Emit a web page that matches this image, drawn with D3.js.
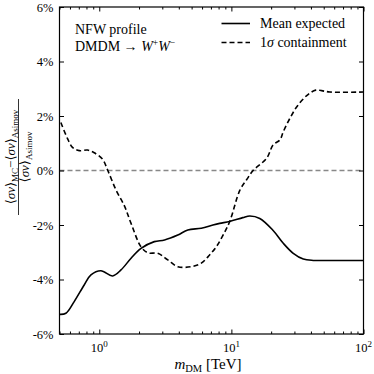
<!DOCTYPE html>
<html><head><meta charset="utf-8">
<script src="https://cdn.jsdelivr.net/npm/d3@7"></script>
<style>
body{margin:0;background:#fff;}
svg text{font-family:"Liberation Serif","DejaVu Serif",serif;fill:#000;}
</style></head>
<body><svg id="c" width="374" height="374"></svg>
<script>
// ---- data ----
const massSolid = [0.50,0.559,0.646,0.769,0.865,1.03,1.26,1.46,1.74,2.07,2.61,3.12,3.93,4.68,5.92,7.25,8.15,9.70,12.2,13.8,16.4,20.7,24.7,29.4,35.0,41.7,55.7,100];
const meanExpected = [-5.28,-5.24,-4.81,-4.20,-3.83,-3.68,-3.87,-3.65,-3.22,-2.86,-2.61,-2.55,-2.37,-2.18,-2.12,-2.0,-1.94,-1.87,-1.73,-1.67,-1.76,-2.2,-2.67,-3.04,-3.25,-3.30,-3.30,-3.30];
const massDashed = [0.512,0.574,0.627,0.705,0.815,0.916,1.06,1.16,1.34,1.55,1.74,2.07,2.33,2.77,3.30,3.93,4.97,5.92,6.84,7.69,8.59,9.70,11.6,13.0,14.6,18.5,20.7,23.3,24.7,27.7,31.6,37.6,43.5,48.2,55.7,100];
const sigmaContainment = [1.76,1.18,0.85,0.73,0.75,0.65,0.41,0.0,-0.72,-1.3,-1.94,-2.80,-3.02,-3.04,-3.28,-3.53,-3.53,-3.40,-3.10,-2.8,-2.4,-1.88,-0.72,-0.35,0.0,0.45,0.94,1.12,1.42,1.91,2.37,2.77,2.95,2.93,2.88,2.88];
const yTicks = [-6,-4,-2,0,2,4,6];
const yTickLabels = ["-6%","-4%","-2%","0%","2%","4%","6%"];
const xMajor = [1,10,100];
const xMajorExp = ["0","1","2"];
const xMinor = [0.5,0.6,0.7,0.8,0.9,2,3,4,5,6,7,8,9,20,30,40,50,60,70,80,90];

const svg = d3.select("#c");
const L=59.5,R=363.5,T=7,B=334;
const x = d3.scaleLog().domain([0.5,100]).range([L,R]);
const y = d3.scaleLinear().domain([-6,6]).range([B,T]);

// zero reference line
svg.append("line").attr("x1",L).attr("x2",R).attr("y1",y(0)).attr("y2",y(0))
  .attr("stroke","#888").attr("stroke-width",1.3).attr("stroke-dasharray","5,3");

const line = d3.line().x(d=>x(d[0])).y(d=>y(d[1])).curve(d3.curveCatmullRom.alpha(0.5));
svg.append("path").datum(massSolid.map((m,i)=>[m,meanExpected[i]]))
  .attr("d",line).attr("fill","none").attr("stroke","#000").attr("stroke-width",1.6);
svg.append("path").datum(massDashed.map((m,i)=>[m,sigmaContainment[i]]))
  .attr("d",line).attr("fill","none").attr("stroke","#000").attr("stroke-width",1.6)
  .attr("stroke-dasharray","5,3");

// axes
function clean(g){g.select(".domain").remove();g.selectAll("line").attr("stroke","#000");}
svg.append("g").attr("transform",`translate(0,${B})`)
  .call(d3.axisBottom(x).tickValues(xMajor).tickSize(-4.5).tickFormat("")).call(clean);
svg.append("g").attr("transform",`translate(0,${B})`)
  .call(d3.axisBottom(x).tickValues(xMinor).tickSize(-2.5).tickFormat("")).call(clean);
svg.append("g").attr("transform",`translate(0,${T})`)
  .call(d3.axisTop(x).tickValues(xMajor).tickSize(-4.5).tickFormat("")).call(clean);
svg.append("g").attr("transform",`translate(0,${T})`)
  .call(d3.axisTop(x).tickValues(xMinor).tickSize(-2.5).tickFormat("")).call(clean);
const gl = svg.append("g").attr("transform",`translate(${L},0)`)
  .call(d3.axisLeft(y).tickValues(yTicks).tickSize(-4.5).tickPadding(6)
  .tickFormat((d,i)=>yTickLabels[i])).call(clean);
gl.selectAll("text").attr("font-size",12.5).style("font-family",'"Liberation Serif",serif');
svg.append("g").attr("transform",`translate(${R},0)`)
  .call(d3.axisRight(y).tickValues(yTicks).tickSize(-4.5).tickFormat("")).call(clean);

svg.append("rect").attr("x",L).attr("y",T).attr("width",R-L).attr("height",B-T)
  .attr("fill","none").attr("stroke","#000").attr("stroke-width",1.2);

// x tick labels
xMajor.forEach((v,i)=>{
  const t = svg.append("text").attr("x",x(v)).attr("y",352).attr("text-anchor","middle").attr("font-size",12.5);
  t.append("tspan").text("10");
  t.append("tspan").attr("dy",-5).attr("font-size",9).text(xMajorExp[i]);
});

// x label
const xl = svg.append("text").attr("x",208).attr("y",369).attr("text-anchor","middle").attr("font-size",15);
xl.append("tspan").attr("font-style","italic").text("m");
xl.append("tspan").attr("dy",3).attr("font-size",10.5).text("DM");
xl.append("tspan").attr("dy",-3).text(" [TeV]");

// y label (rotated fraction)
const yl = svg.append("g").attr("transform","translate(0,157) rotate(-90)");
const num = yl.append("text").attr("x",0).attr("y",15).attr("text-anchor","middle").attr("font-size",13);
num.append("tspan").text("⟨");
num.append("tspan").attr("font-style","italic").text("σv");
num.append("tspan").text("⟩");
num.append("tspan").attr("dy",2.5).attr("font-size",9).text("MC");
num.append("tspan").attr("dy",-2.5).text("−⟨");
num.append("tspan").attr("font-style","italic").text("σv");
num.append("tspan").text("⟩");
num.append("tspan").attr("dy",2.5).attr("font-size",9).text("Asimov");
yl.append("line").attr("x1",-58).attr("x2",58).attr("y1",18.5).attr("y2",18.5).attr("stroke","#000").attr("stroke-width",0.8);
const den = yl.append("text").attr("x",0).attr("y",29).attr("text-anchor","middle").attr("font-size",13);
den.append("tspan").text("⟨");
den.append("tspan").attr("font-style","italic").text("σv");
den.append("tspan").text("⟩");
den.append("tspan").attr("dy",2.5).attr("font-size",9).text("Asimov");

// annotation
svg.append("text").attr("x",75).attr("y",34).attr("font-size",14).text("NFW profile");
const a2 = svg.append("text").attr("x",75).attr("y",51).attr("font-size",14);
a2.append("tspan").text("DMDM → ");
a2.append("tspan").attr("font-style","italic").text("W");
a2.append("tspan").attr("dy",-5).attr("font-size",9.5).text("+");
a2.append("tspan").attr("dy",5).attr("font-style","italic").text("W");
a2.append("tspan").attr("dy",-5).attr("font-size",9.5).text("−");

// legend
svg.append("line").attr("x1",221.5).attr("x2",250).attr("y1",23.5).attr("y2",23.5).attr("stroke","#000").attr("stroke-width",1.6);
svg.append("line").attr("x1",221.5).attr("x2",250).attr("y1",42.5).attr("y2",42.5).attr("stroke","#000").attr("stroke-width",1.6).attr("stroke-dasharray","5,3");
svg.append("text").attr("x",260).attr("y",28).attr("font-size",14).text("Mean expected");
const lg2 = svg.append("text").attr("x",260).attr("y",47).attr("font-size",14);
lg2.append("tspan").text("1");
lg2.append("tspan").attr("font-style","italic").text("σ");
lg2.append("tspan").text(" containment");
</script></body></html>
